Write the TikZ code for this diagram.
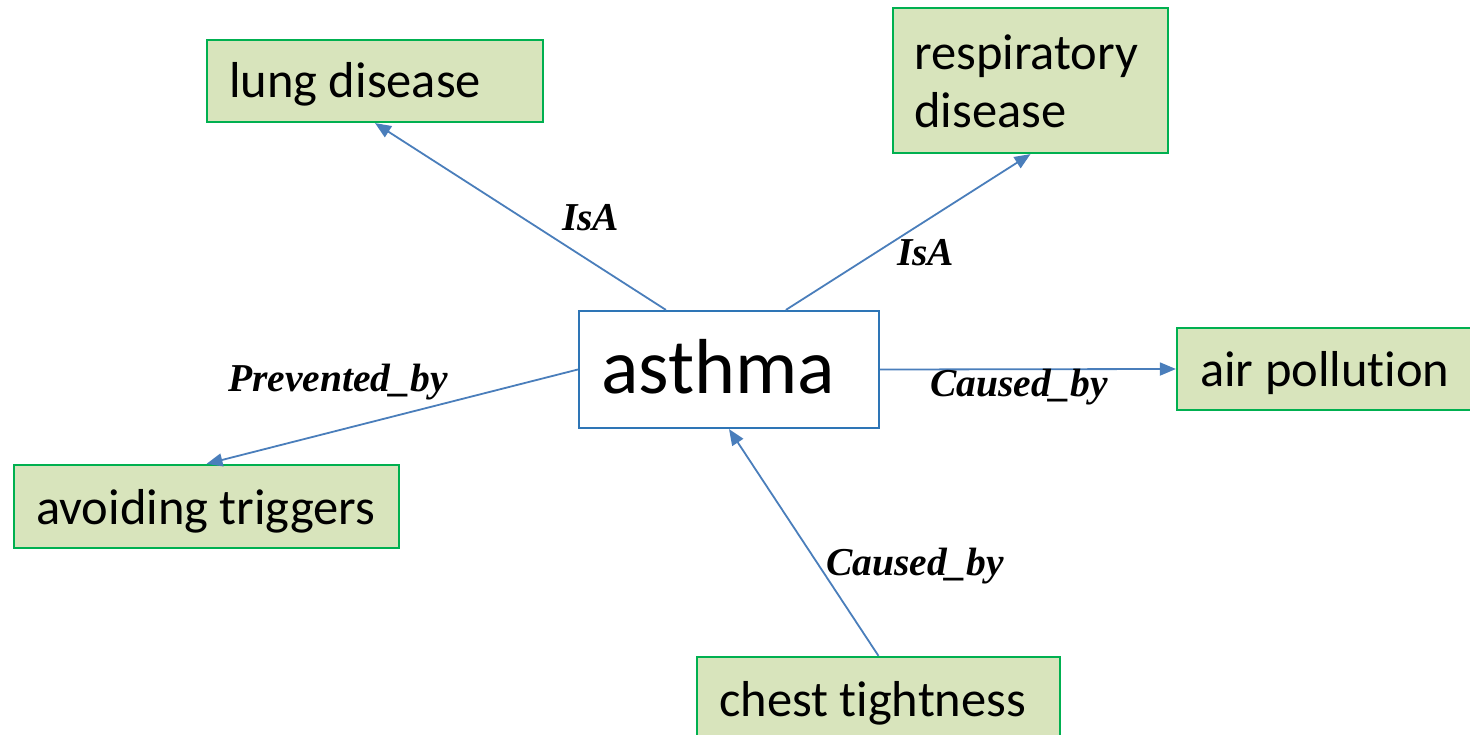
\documentclass[tikz,border=0pt]{standalone}
\usepackage{fontspec}
\setmainfont{Carlito}[Ligatures={NoCommon,NoContextual}]
\newfontfamily\relfont{Liberation Serif}
\usetikzlibrary{arrows.meta}

\definecolor{conceptfill}{RGB}{216,228,188}
\definecolor{conceptline}{RGB}{0,176,80}
\definecolor{linkblue}{RGB}{74,126,187}
\definecolor{hubline}{RGB}{46,117,182}

\tikzset{
  concept/.style={draw=conceptline, fill=conceptfill, line width=2.2pt,
    rectangle, inner sep=0pt},
  hub/.style={draw=hubline, fill=white, line width=2.2pt, rectangle, inner sep=0pt},
  boxtext/.style={anchor=base west, inner sep=0pt, font=\fontsize{50.5}{58}\selectfont},
  hubtext/.style={anchor=base west, inner sep=0pt, font=\fontsize{78}{90}\selectfont},
  rel/.style={anchor=base west, inner sep=0pt,
    font=\relfont\bfseries\itshape\fontsize{39.5}{46}\selectfont},
  link/.style={draw=linkblue, line width=1.8pt,
    -{Triangle[length=16pt,width=13pt]}},
}

\begin{document}
\begin{tikzpicture}[x=1pt,y=-1pt]
  \useasboundingbox (0,0) rectangle (1470,735);

  % concept boxes
  \node[concept, minimum width=336pt, minimum height=82pt] (lung) at (375,81) {};
  \node[concept, minimum width=275pt, minimum height=145pt] (resp) at (1030.5,80.5) {};
  \node[hub, minimum width=300pt, minimum height=117pt] (asthma) at (729,369.5) {};
  \node[concept, minimum width=300pt, minimum height=82pt] (air) at (1327,369) {};
  \node[concept, minimum width=385pt, minimum height=83pt] (avoid) at (206.5,506.5) {};
  \node[concept, minimum width=363pt, minimum height=86pt] (chest) at (878.5,700) {};

  % box texts
  \node[boxtext] (lungtxt) at (229,98) {lung disease};
  \node[boxtext] (resptxt1) at (914,70) {respiratory};
  \node[boxtext] (resptxt2) at (914,128) {disease};
  \node[hubtext] (asthmatxt) at (601,393) {asthma};
  \node[boxtext] (airtxt) at (1200,386) {air pollution};
  \node[boxtext] (avoidtxt) at (36,524) {avoiding triggers};
  \node[boxtext] (chesttxt) at (719,716) {chest tightness};

  % relations
  \draw[link] ([xshift=88pt]asthma.north west) -- (lung.south);
  \draw[link] ([xshift=208pt]asthma.north west) -- (resp.south);
  \draw[link] (asthma.east) -- (air.west);
  \draw[link] (asthma.west) -- (avoid.north);
  \draw[link] (chest.north) -- (asthma.south);

  % relation labels
  \node[rel] (isa1) at (562,231) {IsA};
  \node[rel] (isa2) at (897,266) {IsA};
  \node[rel] (prev) at (228,391) {Prevented\_by};
  \node[rel] (caus1) at (930,396) {Caused\_by};
  \node[rel] (caus2) at (826,575) {Caused\_by};
\end{tikzpicture}
\end{document}
